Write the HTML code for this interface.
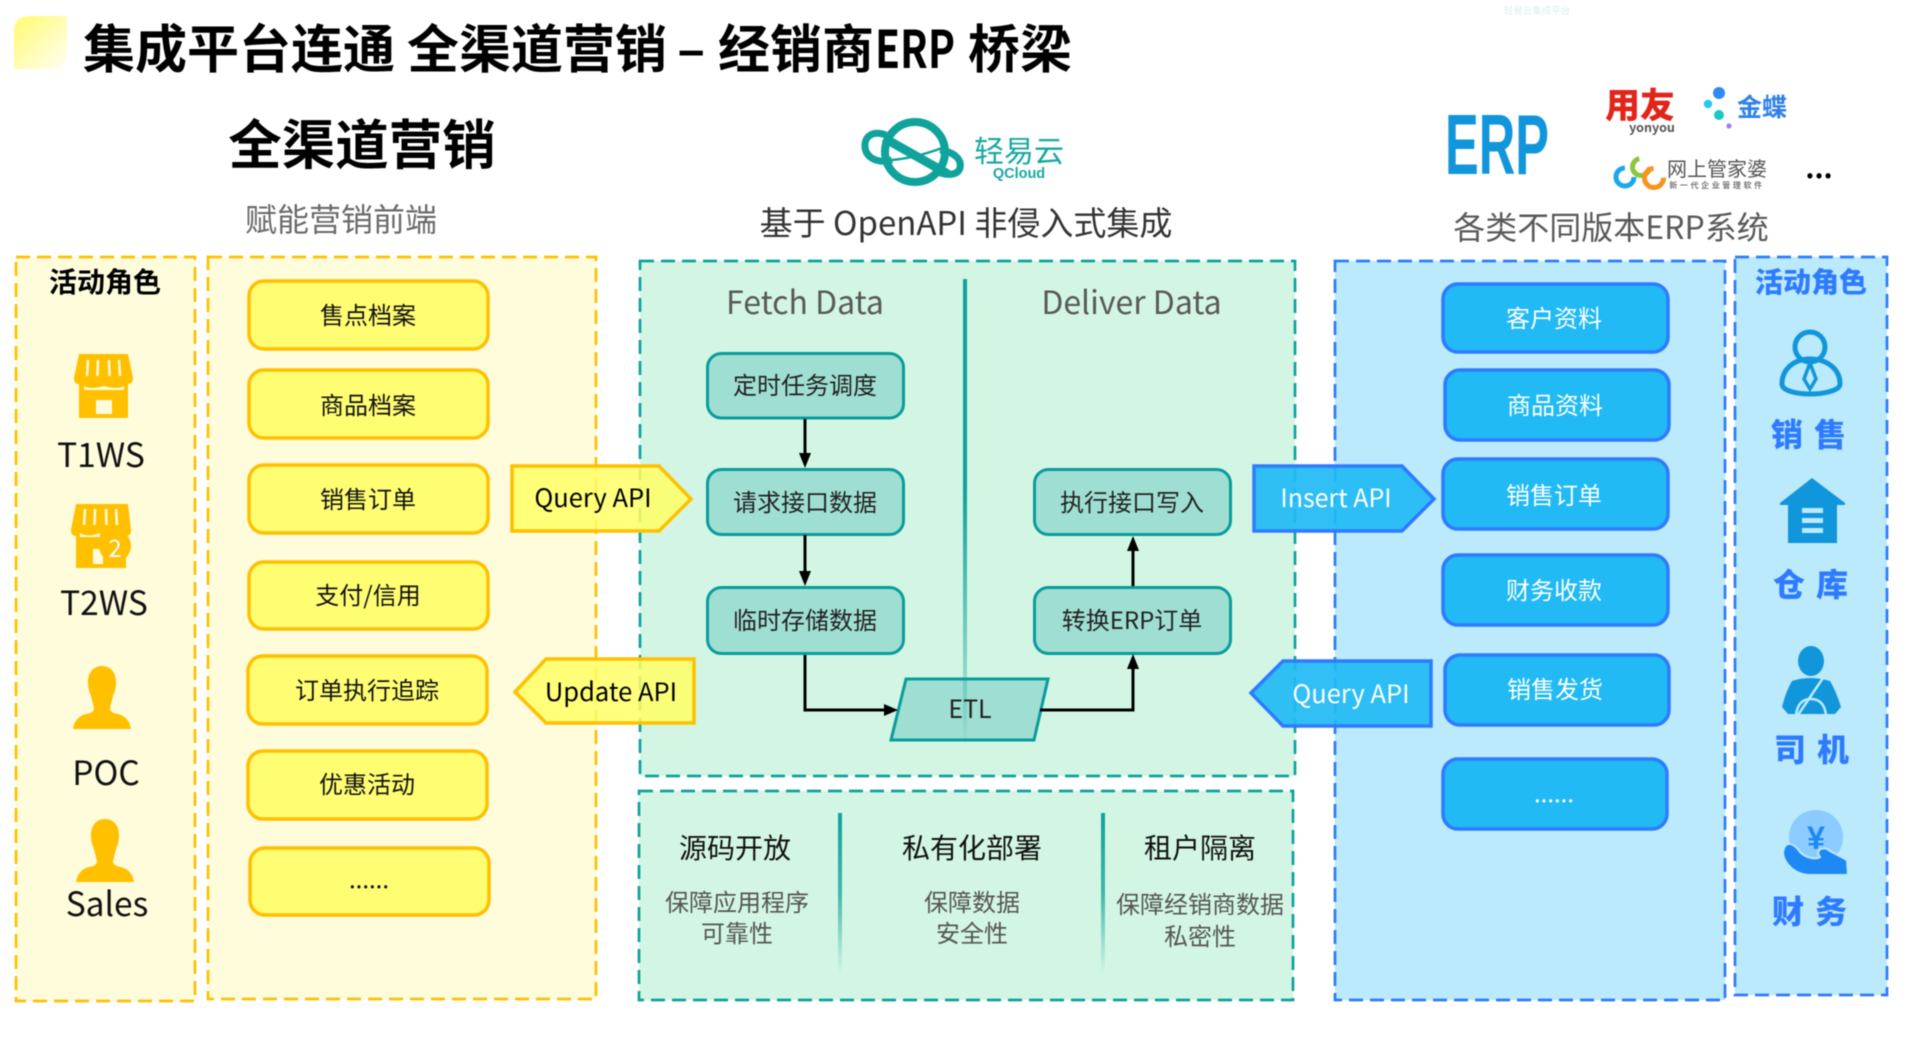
<!DOCTYPE html>
<html><head><meta charset="utf-8"><style>
html,body{margin:0;padding:0;background:#fff;width:1917px;height:1055px;overflow:hidden}
svg{position:absolute;left:0;top:0;display:block;filter:blur(.4px)}
text{font-family:"Noto Sans CJK SC","Liberation Sans",sans-serif}
.m{text-anchor:middle}
</style></head><body>
<svg width="1917" height="1055" viewBox="0 0 1917 1055" xmlns="http://www.w3.org/2000/svg">
<defs>
<linearGradient id="sq" x1="0" y1="0" x2="1" y2="1"><stop offset="0" stop-color="#FFFB6E"/><stop offset="1" stop-color="#FFFFF4"/></linearGradient>
<linearGradient id="dv" x1="0" y1="0" x2="0" y2="1"><stop offset="0" stop-color="#0FA39B"/><stop offset=".45" stop-color="#0FA39B"/><stop offset=".9" stop-color="#0FA39B" stop-opacity=".25"/><stop offset="1" stop-color="#0FA39B" stop-opacity="0"/></linearGradient>
<linearGradient id="dv2" x1="0" y1="0" x2="0" y2="1"><stop offset="0" stop-color="#0FA39B"/><stop offset=".5" stop-color="#0FA39B" stop-opacity=".75"/><stop offset="1" stop-color="#0FA39B" stop-opacity="0"/></linearGradient>
</defs>

<!-- title -->
<path d="M30 16H67V53Q67 69 51 69H14V32Q14 16 30 16Z" fill="url(#sq)"/>
<g font-size="52" font-weight="700" fill="#000">
<text x="83" y="68">集成平台连通</text>
<text x="407" y="68">全渠道营销</text>
<text x="677" y="68">–</text>
<text x="718" y="68">经销商</text>
<text x="875" y="68" textLength="80" lengthAdjust="spacingAndGlyphs">ERP</text>
<text x="968" y="68">桥梁</text>
</g>
<text x="362" y="164" class="m" font-size="53.500" font-weight="700" fill="#000">全渠道营销</text>
<text x="341" y="231" class="m" font-size="32" fill="#6a6a6a">赋能营销前端</text>
<text x="966" y="235" class="m" font-size="33" fill="#333">基于 OpenAPI 非侵入式集成</text>
<text x="1611" y="239" class="m" font-size="32" fill="#595959">各类不同版本ERP系统</text>
<text x="1537" y="14" class="m" font-size="9.500" fill="#d8eeee">轻易云集成平台</text>

<!-- qcloud logo -->
<g fill="none" stroke="#0FA39B">
<circle cx="915" cy="152" r="30" stroke-width="8"/>
<path d="M886 135C872 130 864 137 865 147C866 158 878 164 892 160" stroke-width="7"/>
<path d="M940 150C955 152 962 160 960 168C958 175 948 176 938 172" stroke-width="7"/>
<path d="M884 138L948 174" stroke-width="9"/>
<path d="M892 160Q915 158 942 148" stroke-width="2.500"/>
</g>
<text x="1019" y="162" class="m" font-size="30" fill="#19A89F">轻易云</text>
<text x="1019" y="178" class="m" font-size="14.500" font-weight="700" fill="#19A89F" style='font-family:"Liberation Sans",sans-serif'>QCloud</text>

<!-- erp logos -->
<text x="1445" y="174" font-size="85" font-weight="700" fill="#1296DB" textLength="104" lengthAdjust="spacingAndGlyphs" style='font-family:"Liberation Sans",sans-serif'>ERP</text>
<text x="1640" y="118" class="m" font-size="35" font-weight="900" fill="#E1251B">用友</text>
<text x="1652" y="132" class="m" font-size="12.500" font-weight="700" fill="#555">yonyou</text>
<circle cx="1719" cy="93" r="6" fill="#2F8BF3"/><circle cx="1708" cy="104" r="4.200" fill="#29C7F0"/><circle cx="1719" cy="115" r="5" fill="#1CC8C0"/><circle cx="1729" cy="126" r="2.600" fill="#A57BF5"/>
<text x="1762" y="116" class="m" font-size="25" font-weight="700" fill="#2F80ED">金蝶</text>
<g fill="none" stroke-width="5"><circle cx="1625" cy="177" r="9" stroke="#1CA7EC" stroke-dasharray="42 15"/><circle cx="1641" cy="167" r="8.500" stroke="#8CC63F" stroke-dasharray="38 15"/><circle cx="1654" cy="178" r="9.500" stroke="#F7941D" stroke-dasharray="44 15"/></g>
<text x="1717" y="176" class="m" font-size="20" fill="#555">网上管家婆</text>
<text x="1717" y="188" class="m" font-size="8" font-weight="700" fill="#777" letter-spacing="2.600">新一代企业管理软件</text>
<text x="1819" y="178" class="m" font-size="28" font-weight="700" fill="#000">...</text>

<!-- panels -->
<g stroke-width="2.700" stroke-dasharray="14 7">
<rect x="16" y="257" width="179" height="744" fill="#FFFCDC" stroke="#FFC000"/>
<rect x="208" y="257" width="388" height="742" fill="#FFFCDC" stroke="#FFC000"/>
<rect x="640" y="261" width="655" height="515" fill="#D3F6E4" stroke="#0FA39B"/>
<rect x="639" y="791" width="654" height="209" fill="#D3F6E4" stroke="#0FA39B"/>
<rect x="1335" y="261" width="390" height="739" fill="#BAEAFB" stroke="#2F7BFF"/>
<rect x="1735" y="257" width="152" height="738" fill="#BAEAFB" stroke="#2F7BFF"/>
</g>

<!-- left roles -->
<text x="105" y="292" class="m" font-size="28" font-weight="700" fill="#000">活动角色</text>
<g fill="#FFC000">
<path d="M79 354H128L133 378Q133 384 128 384V418H79V384Q74 384 74 378Z"/>
<path d="M88 360L87 376M98 360L97.500 376M109 360L109.500 376M119 360L120 376" stroke="#FFFCDC" stroke-width="2.500"/>
<path d="M84 386Q90 390 104 386Q118 390 124 386V390H84Z" fill="#FFFCDC"/>
<rect x="96" y="400" width="16" height="14" fill="#FFFCDC"/>
<path d="M76 504H128L131 530Q131 536 126 536V568H76V536Q71 536 71 530Z"/>
<path d="M85 509L84 525M95 509L94.500 525M106 509L106.500 525M116 509L117 525" stroke="#FFFCDC" stroke-width="2.500"/>
<path d="M80 533Q88 538 100 533V537H80Z" fill="#FFFCDC"/>
<rect x="93" y="549" width="10" height="15" fill="#FFFCDC"/>
<circle cx="115" cy="546" r="16"/>
<g transform="translate(102 666)"><path d="M0 0C9 0 14 7 14 16C14 24 12 27 11 30L8 42C8 45 10 47 16 48C24 50 28 56 29 63H-29C-28 56 -24 50 -16 48C-10 47 -8 45 -8 42L-11 30C-12 27 -14 24 -14 16C-14 7 -9 0 0 0Z"/></g>
<g transform="translate(105 819)"><path d="M0 0C9 0 14 7 14 16C14 24 12 27 11 30L8 42C8 45 10 47 16 48C24 50 28 56 29 63H-29C-28 56 -24 50 -16 48C-10 47 -8 45 -8 42L-11 30C-12 27 -14 24 -14 16C-14 7 -9 0 0 0Z"/></g>
</g>
<text x="115" y="557" class="m" font-size="24" fill="#fff">2</text>
<text x="101" y="467" class="m" font-size="33.500" fill="#111">T1WS</text>
<text x="104" y="615" class="m" font-size="33.500" fill="#111">T2WS</text>
<text x="106" y="785" class="m" font-size="33.500" fill="#111">POC</text>
<text x="107" y="916" class="m" font-size="33.500" fill="#111">Sales</text>

<!-- yellow boxes -->
<g fill="#FFFD72" stroke="#FFC000" stroke-width="3.500">
<rect x="249" y="281" width="239" height="68" rx="15"/>
<rect x="249" y="370" width="239" height="68" rx="15"/>
<rect x="249" y="465" width="239" height="68" rx="15"/>
<rect x="249" y="562" width="239" height="67" rx="15"/>
<rect x="248" y="656" width="239" height="68" rx="15"/>
<rect x="248" y="751" width="239" height="68" rx="15"/>
<rect x="250" y="848" width="239" height="67" rx="15"/>
</g>
<g font-size="24" fill="#111">
<text x="368" y="324" class="m">售点档案</text>
<text x="368" y="414" class="m">商品档案</text>
<text x="368" y="508" class="m">销售订单</text>
<text x="368" y="604" class="m">支付/信用</text>
<text x="367" y="699" class="m">订单执行追踪</text>
<text x="367" y="793" class="m">优惠活动</text>
<text x="369" y="888" class="m">......</text>
</g>

<!-- teal flow -->
<g fill="#9FDFD3" stroke="#0A9C9C" stroke-width="3">
<rect x="707.500" y="353.500" width="196" height="64.500" rx="14"/>
<rect x="707.500" y="469.500" width="196" height="65" rx="14"/>
<rect x="707.500" y="587.500" width="196" height="66" rx="14"/>
<rect x="1034.500" y="469.500" width="196" height="65" rx="14"/>
<rect x="1034.500" y="587.500" width="196" height="66" rx="14"/>
<polygon points="906,679 1048,679 1034,740 891,740"/>
</g>
<!-- divider -->
<rect x="963" y="279" width="4" height="470" fill="url(#dv)"/>
<g font-size="24" fill="#222">
<text x="805" y="394" class="m">定时任务调度</text>
<text x="805" y="511" class="m">请求接口数据</text>
<text x="805" y="629" class="m">临时存储数据</text>
<text x="1132" y="511" class="m">执行接口写入</text>
<text x="1132" y="629" class="m">转换ERP订单</text>
<text x="970" y="718" class="m" font-size="25">ETL</text>
</g>
<text x="805" y="314" class="m" font-size="32" fill="#595959">Fetch Data</text>
<text x="1131.500" y="314" class="m" font-size="32" fill="#595959">Deliver Data</text>
<g fill="none" stroke="#000" stroke-width="3">
<path d="M805 419V458"/><path d="M805 535V576"/>
<path d="M805 655V710H888"/>
<path d="M1133 586V546"/>
<path d="M1040 710H1133V665"/>
</g>
<g fill="#000">
<polygon points="805,468 799,453 811,453"/><polygon points="805,586 799,571 811,571"/>
<polygon points="898,710 884,704 884,716"/>
<polygon points="1133,536 1127,551 1139,551"/><polygon points="1133,654 1127,669 1139,669"/>
</g>

<!-- api arrows -->
<polygon points="512,466 659,466 691,499 659,531 512,531" fill="#FFFF66" fill-opacity=".85" stroke="#FFC000" stroke-width="3.500"/>
<text x="593" y="507" class="m" font-size="25.500" fill="#000">Query API</text>
<polygon points="515,692 546,659 694,659 694,723 546,723" fill="#FFFF66" fill-opacity=".85" stroke="#FFC000" stroke-width="3.500"/>
<text x="611" y="701" class="m" font-size="25.500" fill="#000">Update API</text>
<polygon points="1254,466 1402,466 1434,499 1402,531 1254,531" fill="#21BAF4" fill-opacity=".92" stroke="#2F7BFF" stroke-width="3.500"/>
<text x="1336" y="507" class="m" font-size="25" fill="#fff">Insert API</text>
<polygon points="1251,693 1283,661 1431,661 1431,726 1283,726" fill="#21BAF4" fill-opacity=".92" stroke="#2F7BFF" stroke-width="3.500"/>
<text x="1351" y="703" class="m" font-size="25.500" fill="#fff">Query API</text>

<!-- bottom -->
<rect x="838" y="813" width="4" height="160" fill="url(#dv2)"/>
<rect x="1101" y="813" width="4" height="160" fill="url(#dv2)"/>
<g font-size="28" fill="#111">
<text x="735" y="858" class="m">源码开放</text>
<text x="972" y="858" class="m">私有化部署</text>
<text x="1200" y="858" class="m">租户隔离</text>
</g>
<g font-size="24" fill="#555">
<text x="737" y="911" class="m">保障应用程序</text>
<text x="737" y="942" class="m">可靠性</text>
<text x="972" y="911" class="m">保障数据</text>
<text x="972" y="942" class="m">安全性</text>
<text x="1200" y="913" class="m">保障经销商数据</text>
<text x="1200" y="945" class="m">私密性</text>
</g>

<!-- blue boxes -->
<g fill="#21BAF4" stroke="#2F7BFF" stroke-width="3.500">
<rect x="1443" y="284" width="225" height="68" rx="15"/>
<rect x="1445" y="370" width="224" height="70" rx="15"/>
<rect x="1443" y="459" width="225" height="70" rx="15"/>
<rect x="1443" y="555" width="225" height="70" rx="15"/>
<rect x="1445" y="655" width="224" height="70" rx="15"/>
<rect x="1443" y="759" width="224" height="70" rx="15"/>
</g>
<g font-size="24" fill="#fff">
<text x="1554" y="327" class="m">客户资料</text>
<text x="1555" y="414" class="m">商品资料</text>
<text x="1554" y="504" class="m">销售订单</text>
<text x="1554" y="599" class="m">财务收款</text>
<text x="1555" y="698" class="m">销售发货</text>
<text x="1554" y="802" class="m">......</text>
</g>

<!-- right roles -->
<text x="1811" y="292" class="m" font-size="28" font-weight="900" fill="#2F7BFF">活动角色</text>
<g fill="none" stroke="#1296DB" stroke-width="5" transform="translate(-10 -1)">
<circle cx="1820" cy="348" r="15"/>
<path d="M1792 385C1792 370 1804 360 1820 360C1837 360 1850 370 1850 385C1850 392 1832 395 1821 395C1807 395 1792 392 1792 385Z"/>
<path d="M1820 364L1814 380L1820 390L1826 380Z" stroke-width="3.500"/>
</g>
<g fill="#2F7BFF" font-size="32" font-weight="900" letter-spacing="11">
<text x="1814" y="446" class="m">销售</text>
<text x="1816" y="596" class="m">仓库</text>
<text x="1817" y="761" class="m">司机</text>
<text x="1815" y="923" class="m">财务</text>
</g>
<g fill="#1296DB" transform="translate(-10 0)">
<path d="M1790 503L1822 478L1855 503V505H1847V543H1798V505H1790Z"/>
<rect x="1812" y="508" width="21" height="5" fill="#BAEAFB"/><rect x="1812" y="518" width="21" height="5" fill="#BAEAFB"/><rect x="1812" y="528" width="21" height="5" fill="#BAEAFB"/>
<ellipse cx="1821" cy="661" rx="13" ry="15"/>
<path d="M1802 681Q1820 675 1840 681Q1846 691 1851 707L1845 714H1798L1792 707Q1796 691 1802 681Z"/>
<path d="M1833 678L1808 715" stroke="#BAEAFB" stroke-width="2.500" fill="none"/>
<path d="M1806 715Q1808 699 1821 699Q1834 699 1836 715" stroke="#BAEAFB" stroke-width="2.500" fill="none"/>
</g>
<g transform="translate(-8 2)">
<circle cx="1824" cy="835" r="27" fill="#8CCBFF"/>
<text x="1824" y="847" class="m" font-size="32" font-weight="700" fill="#1E88F5" style='font-family:"Liberation Sans",sans-serif'>¥</text>
<path d="M1792 846C1796 838 1803 843 1808 850C1814 856 1824 858 1828 855C1822 848 1832 843 1838 849L1855 858L1856 873L1818 873C1802 873 1791 860 1791 850Z" fill="#1E88F5" stroke="#BAEAFB" stroke-width="2"/>
</g>
</svg>
</body></html>
